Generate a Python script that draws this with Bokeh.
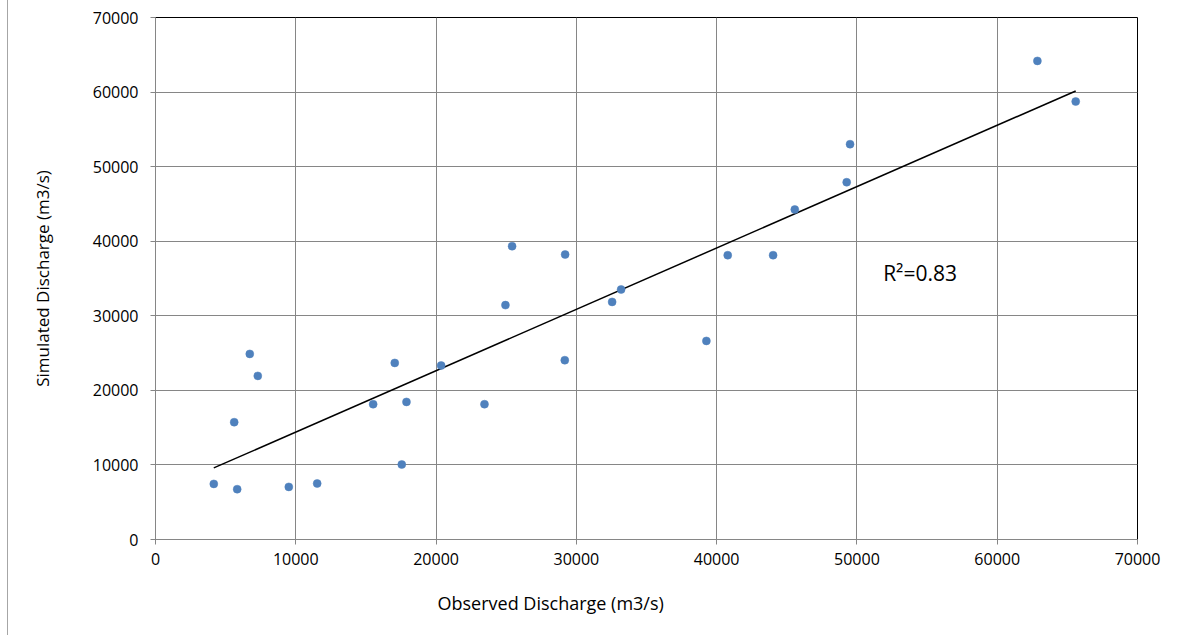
from bokeh.plotting import figure
from bokeh.models import Range1d, Label, FixedTicker, ColumnDataSource, Title
from bokeh.embed import file_html
from bokeh.resources import INLINE

observed = [4155, 5823, 9501, 11525, 5610, 6720, 7290, 15515, 17555, 17890,
            17055, 20360, 23450, 24946, 25420, 29200, 29175, 32550, 33190,
            39270, 40790, 44025, 45570, 49270, 49510, 62865, 65595]
simulated = [7456, 6745, 7054, 7510, 15730, 24890, 21940, 18145, 10058, 18450,
             23680, 23330, 18144, 31430, 39330, 38220, 24045, 31860, 33525,
             26630, 38125, 38125, 44250, 47910, 53010, 64180, 58735]
trend_x = [4155, 65595]
trend_y = [9600, 60150]
ticks = [0, 10000, 20000, 30000, 40000, 50000, 60000, 70000]
r2_text = "R²=0.83"
x_title = "Observed Discharge (m3/s)"
y_title = "Simulated Discharge (m3/s)"

FONT = "Open Sans"
GRID = "#868686"

p = figure(width=1161, height=635, output_backend="svg", toolbar_location=None,
           x_range=Range1d(0, 70000), y_range=Range1d(0, 70000),
           min_border_left=147, min_border_right=32, min_border_top=17,
           min_border_bottom=96)
p.title.visible = False
p.background_fill_color = "white"
p.border_fill_color = "white"
p.outline_line_color = "black"
p.outline_line_width = 1
p.styles = {"border-left": "1px solid #A6A6A6", "margin-left": "7px"}

for ax in (p.xaxis[0], p.yaxis[0]):
    ax.ticker = FixedTicker(ticks=ticks)
    ax.minor_tick_line_color = None
    ax.axis_line_color = GRID
    ax.major_tick_line_color = GRID
    ax.major_tick_in = 0
    ax.major_tick_out = 5
    ax.major_label_text_font = FONT
    ax.major_label_text_font_size = "16px"
    ax.major_label_text_color = "black"
    ax.axis_label_text_font = FONT
    ax.axis_label_text_font_size = "17px"
    ax.axis_label_text_font_style = "normal"
    ax.axis_label_text_color = "black"

p.yaxis[0].major_label_standoff = 12
p.xaxis[0].major_label_standoff = 8
p.yaxis[0].axis_label = y_title
p.yaxis[0].axis_label_standoff = 36

p.xgrid.grid_line_color = GRID
p.ygrid.grid_line_color = GRID
p.xgrid.grid_line_width = 1
p.ygrid.grid_line_width = 1

p.line(trend_x, trend_y, line_color="black", line_width=1.5)
src = ColumnDataSource(dict(x=observed, y=simulated))
p.scatter("x", "y", source=src, size=8, fill_color="#4F81BD",
          line_color="#4F81BD", line_width=0.5)

p.add_layout(Label(x=54500, y=35750, text=r2_text, text_font=FONT,
                   text_font_size="21px", text_color="black",
                   text_align="center", text_baseline="middle"))
p.add_layout(Title(text=x_title, align="left", offset=282, standoff=42,
                   text_font=FONT, text_font_size="18px",
                   text_font_style="normal", text_color="black"), "below")

open("out.html", "w").write(file_html(p, INLINE))
